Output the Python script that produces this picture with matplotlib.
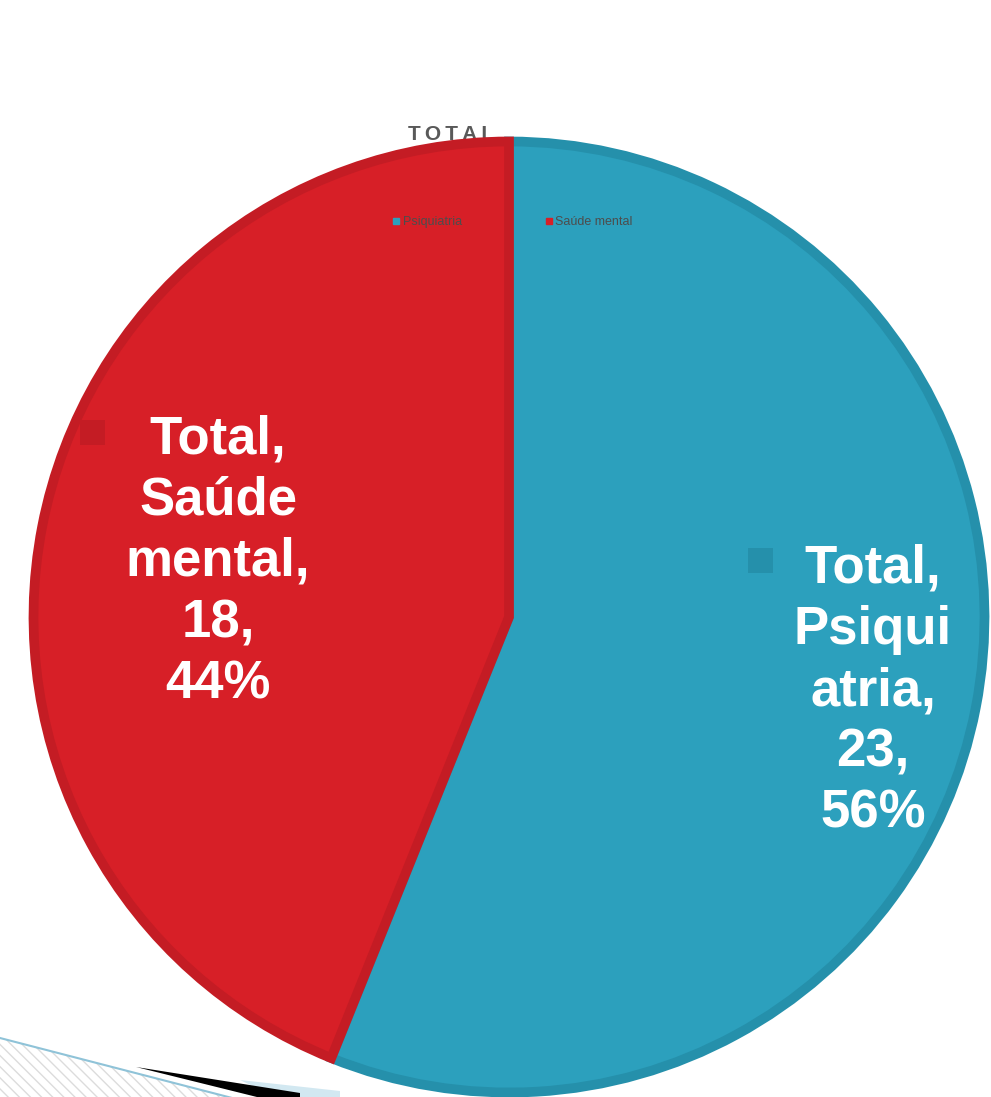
import matplotlib.pyplot as plt
from matplotlib.lines import Line2D
from matplotlib.patches import Polygon

plt.rcParams['font.family'] = ['Liberation Sans', 'DejaVu Sans']

# Dados do gráfico
categorias = ['Psiquiatria', 'Saúde mental']
valores = [23, 18]
cores = ['#2ca0bd', '#d71f27']
cores_borda = ['#2590ab', '#c41c24']

W, H = 991, 1097
fig = plt.figure(figsize=(W / 100, H / 100), dpi=100)
ax = fig.add_axes([0, 0, 1, 1])


def py(y):
    # converte y de pixel (de cima para baixo) para o eixo (de baixo para cima)
    return H - y


# Pizza em coordenadas de pixel
cx, cy, r = 509, py(617), 475.5
wedges, _ = ax.pie(valores, colors=cores, startangle=90, counterclock=False,
                   center=(cx, cy), radius=r,
                   wedgeprops=dict(linewidth=7, joinstyle='miter'))
for w, ec in zip(wedges, cores_borda):
    w.set_edgecolor(ec)
    w.set_zorder(3)

ax.set_xlim(0, W)
ax.set_ylim(0, H)
ax.set_aspect('equal')
ax.axis('off')

# Rótulos dos dados
total = sum(valores)
rotulos = []
for cat, v in zip(categorias, valores):
    nome = 'Psiqui\natria' if cat == 'Psiquiatria' else 'Saúde\nmental'
    rotulos.append(f'Total,\n{nome},\n{v},\n{round(v / total * 100)}%')

pos_rotulos = [(873, py(691)), (218, py(562))]
pos_marcas = [(760, py(560)), (92, py(432))]
for txt, (x, y), (mx, my), ec in zip(rotulos, pos_rotulos, pos_marcas, cores_borda):
    ax.text(x, y, txt, ha='center', va='center', color='white', fontsize=38,
            fontweight='bold', linespacing=1.29, zorder=5)
    ax.plot(mx, my, marker='s', markersize=18, color=ec, markeredgewidth=0, zorder=4)
    ax.plot(mx, my, marker='o', markersize=2.5, color=ec, alpha=0.6,
            markeredgewidth=0, zorder=4)

# Título
ax.text(451, py(134), 'T\u2009O\u2009T\u2009A\u2009L', ha='center', va='center',
        color='#595959', fontsize=15, fontweight='bold', zorder=1)

# Legenda
handles = [Line2D([], [], marker='s', linestyle='', color=c, markersize=4)
           for c in cores]
leg = ax.legend(handles, categorias, ncol=2, frameon=False, fontsize=9,
                loc='center', bbox_to_anchor=(512 / W, 1 - 222 / H),
                columnspacing=6.6, handletextpad=0.1, handlelength=0.8,
                labelcolor='#4d4d4d')
leg.set_zorder(6)

# Detalhe decorativo no canto inferior esquerdo
faixa = Polygon([(0, py(1038)), (236, py(1099)), (0, py(1099))], closed=True,
                facecolor='white', edgecolor='#dcdcdc', hatch='\\\\\\',
                linewidth=0, zorder=1)
ax.add_patch(faixa)
ax.plot([0, 236], [py(1038), py(1099)], color='#8fc3d8', linewidth=1.5, zorder=2)
ax.add_patch(Polygon([(240, py(1080)), (340, py(1091)), (340, py(1099)), (280, py(1099))],
                     closed=True, facecolor='#d2e8f1', edgecolor='none', zorder=1.5))
ax.add_patch(Polygon([(136, py(1067)), (300, py(1093)), (300, py(1099)), (265, py(1099))],
                     closed=True, facecolor='black', edgecolor='none', zorder=2))

fig.savefig('out.png', dpi=100)
